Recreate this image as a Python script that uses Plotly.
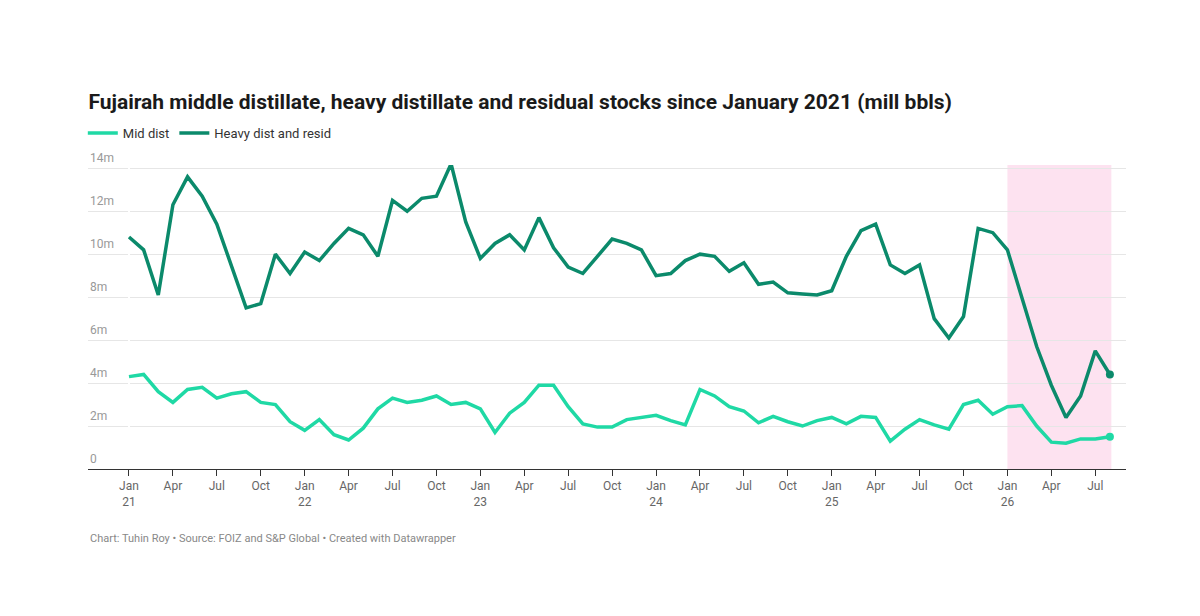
import plotly.graph_objects as go

months = list(range(68))  # Jan 2021 .. Aug 2026
mid_dist = [4.3, 4.4, 3.6, 3.1, 3.7, 3.8, 3.3, 3.5, 3.6, 3.1, 3.0, 2.2,
            1.8, 2.3, 1.6, 1.35, 1.9, 2.8, 3.3, 3.1, 3.2, 3.4, 3.0, 3.1,
            2.8, 1.7, 2.6, 3.1, 3.9, 3.9, 2.9, 2.1, 1.95, 1.95, 2.3, 2.4,
            2.5, 2.25, 2.05, 3.7, 3.4, 2.9, 2.7, 2.15, 2.45, 2.2, 2.0, 2.25,
            2.4, 2.1, 2.45, 2.4, 1.3, 1.85, 2.3, 2.05, 1.85, 3.0, 3.2, 2.55,
            2.9, 2.95, 2.0, 1.25, 1.2, 1.4, 1.4, 1.5]
heavy = [10.8, 10.2, 8.1, 12.3, 13.6, 12.7, 11.4, 9.5, 7.5, 7.7, 10.0, 9.1,
         10.1, 9.7, 10.5, 11.2, 10.9, 9.9, 12.5, 12.0, 12.6, 12.7, 14.2, 11.5,
         9.8, 10.5, 10.9, 10.2, 11.7, 10.3, 9.4, 9.1, 9.9, 10.7, 10.5, 10.2,
         9.0, 9.1, 9.7, 10.0, 9.9, 9.2, 9.6, 8.6, 8.7, 8.2, 8.15, 8.1,
         8.3, 9.9, 11.1, 11.4, 9.5, 9.1, 9.5, 7.0, 6.1, 7.1, 11.2, 11.0,
         10.2, 8.0, 5.7, 3.9, 2.4, 3.4, 5.5, 4.4]
tick_vals = list(range(0, 68, 3))
names = ["Jan", "Apr", "Jul", "Oct"]
tick_text = [names[(m // 3) % 4] + ("<br>%02d" % (21 + m // 12) if m % 12 == 0 else "") for m in tick_vals]
y_ticks = [0, 2, 4, 6, 8, 10, 12, 14]

MID = "#1fd9a5"
HEAVY = "#0b8a6b"

fig = go.Figure()
fig.add_shape(type="rect", xref="x", yref="y", x0=60, x1=67.1, y0=0, y1=14.15,
              fillcolor="#fde2f0", line_width=0, layer="below")
fig.add_trace(go.Scatter(x=months, y=mid_dist, mode="lines", name="Mid dist",
                         line=dict(color=MID, width=3.5)))
fig.add_trace(go.Scatter(x=months, y=heavy, mode="lines", name="Heavy dist and resid",
                         line=dict(color=HEAVY, width=3.5)))
fig.add_trace(go.Scatter(x=[months[-1]], y=[mid_dist[-1]], mode="markers", showlegend=False,
                         marker=dict(color=MID, size=8)))
fig.add_trace(go.Scatter(x=[months[-1]], y=[heavy[-1]], mode="markers", showlegend=False,
                         marker=dict(color=HEAVY, size=8)))

for v in y_ticks:
    fig.add_annotation(x=0, xref="paper", y=v, yref="y", text=("%dm" % v) if v else "0",
                       showarrow=False, xanchor="left", yanchor="bottom", yshift=1,
                       font=dict(size=12, color="#999999"))

fig.update_layout(
    width=1200, height=616, plot_bgcolor="white", paper_bgcolor="white",
    margin=dict(l=80, r=82, t=157, b=155),
    font=dict(family="Roboto", color="#333333"),
    title=dict(text="<b>Fujairah middle distillate, heavy distillate and residual stocks since January 2021 (mill bbls)</b>",
               xref="container", x=0.067, xanchor="left", yref="container", y=1 - 94 / 616,
               yanchor="middle", font=dict(size=21, color="#1a1a1a")),
    legend=dict(orientation="h", x=-0.005, xanchor="left", y=1.105, yanchor="middle",
                font=dict(size=13, color="#333333"), itemwidth=30, tracegroupgap=0),
    showlegend=True,
)
fig.update_xaxes(range=[-2.8, 68.1], tickmode="array", tickvals=tick_vals, ticktext=tick_text,
                 showgrid=False, ticks="outside", ticklen=6, tickcolor="#333333", automargin=False,
                 showline=True, linecolor="#333333", tickfont=dict(size=12, color="#666666"))
fig.update_yaxes(range=[0, 14.15], tickvals=y_ticks, showticklabels=False, automargin=False,
                 gridcolor="#e6e6e6", zeroline=False)

fig.add_annotation(x=0, xref="paper", y=-0.23, yref="paper", xanchor="left", yanchor="middle",
                   showarrow=False,
                   text="Chart: Tuhin Roy • Source: FOIZ and S&P Global • Created with Datawrapper",
                   font=dict(size=11, color="#888888"))

fig.write_html("out.html")
